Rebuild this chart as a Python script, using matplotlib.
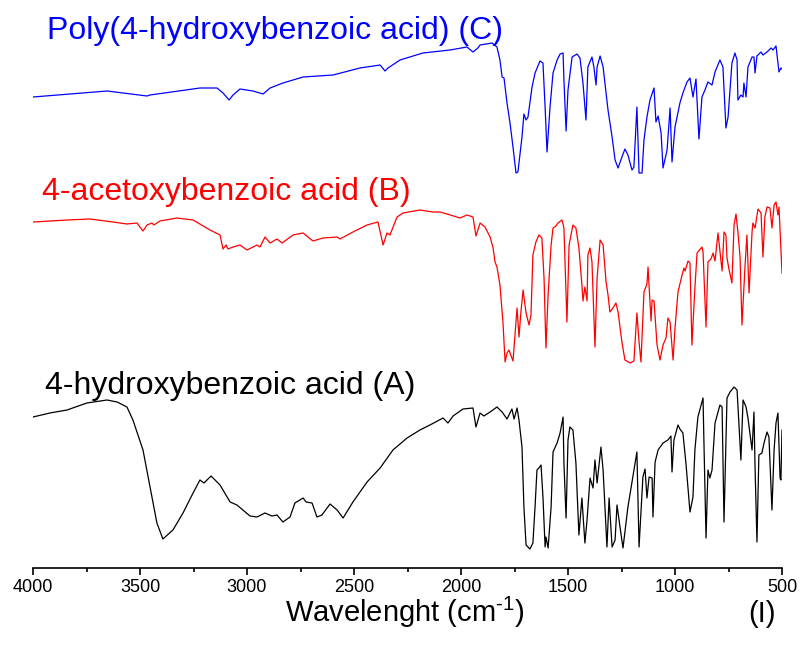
"""
FTIR spectra of 4-hydroxybenzoic acid (A), 4-acetoxybenzoic acid (B)
and poly(4-hydroxybenzoic acid) (C), stacked traces.
"""

import matplotlib
matplotlib.use("Agg")
import matplotlib.pyplot as plt
from matplotlib.ticker import MultipleLocator

# ─── Data (wavenumber in cm-1, transmittance in arbitrary stacked units) ─────
wn_C = [4000, 3654, 3467, 3453, 3220, 3140, 3112, 3084, 3065, 3033,
        2972, 2925, 2892, 2832, 2738, 2598, 2472, 2378, 2355, 2341,
        2285, 2178, 2051, 1972, 1944, 1921, 1911, 1855, 1832, 1818,
        1808, 1799, 1785, 1771, 1757, 1743, 1734, 1715, 1706, 1696,
        1687, 1668, 1654, 1631, 1617, 1607, 1598, 1584, 1570, 1551,
        1537, 1523, 1519, 1509, 1500, 1481, 1458, 1444, 1430, 1416,
        1407, 1388, 1379, 1369, 1364, 1350, 1336, 1313, 1294, 1280,
        1266, 1248, 1234, 1220, 1201, 1192, 1178, 1168, 1154, 1145,
        1131, 1117, 1098, 1089, 1079, 1065, 1056, 1037, 1023, 1014,
        1000, 977, 963, 944, 930, 916, 902, 897, 888, 874,
        860, 846, 827, 813, 790, 776, 762, 752, 734, 720,
        710, 706, 692, 682, 678, 668, 659, 640, 631, 626,
        617, 598, 589, 570, 551, 542, 528, 514, 505, 495]
t_C = [471, 477, 472, 473, 480, 480, 475, 468, 473, 479,
       477, 474, 480, 485, 491, 493, 500, 503, 497, 500,
       508, 515, 518, 521, 516, 520, 523, 525, 521, 508,
       491, 490, 465, 445, 421, 395, 396, 431, 454, 448,
       451, 481, 495, 507, 505, 461, 416, 461, 495, 508,
       514, 515, 488, 437, 478, 511, 514, 510, 485, 448,
       501, 511, 501, 483, 501, 512, 501, 458, 431, 408,
       400, 411, 419, 413, 398, 401, 461, 395, 395, 428,
       451, 468, 480, 446, 452, 435, 400, 418, 460, 406,
       441, 465, 475, 486, 490, 471, 489, 468, 429, 471,
       478, 486, 483, 496, 508, 501, 440, 451, 505, 515,
       508, 468, 473, 471, 485, 471, 501, 511, 511, 495,
       512, 516, 513, 516, 520, 518, 522, 496, 500, 498]

wn_B = [4000, 3841, 3734, 3626, 3561, 3514, 3486, 3467, 3444, 3435,
        3407, 3327, 3252, 3173, 3126, 3112, 3098, 3089, 3065, 3033,
        3000, 2953, 2939, 2916, 2892, 2860, 2836, 2785, 2738, 2692,
        2645, 2579, 2565, 2505, 2439, 2388, 2364, 2346, 2332, 2299,
        2271, 2192, 2131, 2098, 2065, 2005, 1972, 1944, 1930, 1911,
        1888, 1864, 1850, 1841, 1832, 1818, 1804, 1794, 1785, 1776,
        1757, 1738, 1729, 1720, 1710, 1696, 1682, 1673, 1664, 1650,
        1636, 1622, 1612, 1603, 1593, 1579, 1570, 1556, 1547, 1528,
        1519, 1505, 1495, 1477, 1463, 1449, 1435, 1430, 1421, 1411,
        1407, 1397, 1388, 1374, 1364, 1350, 1336, 1322, 1313, 1304,
        1290, 1276, 1266, 1248, 1234, 1210, 1192, 1178, 1168, 1159,
        1145, 1131, 1126, 1112, 1107, 1098, 1084, 1070, 1056, 1042,
        1033, 1023, 1009, 1000, 986, 967, 958, 953, 939, 930,
        921, 907, 897, 874, 869, 855, 846, 832, 822, 813,
        799, 780, 771, 762, 757, 748, 734, 724, 715, 706,
        696, 687, 673, 664, 654, 640, 636, 626, 612, 598,
        589, 580, 570, 556, 547, 537, 528, 519, 514, 500]
t_B = [346, 348, 349, 346, 344, 345, 337, 343, 345, 343,
       347, 350, 348, 338, 333, 319, 323, 319, 321, 323,
       318, 323, 321, 331, 325, 329, 325, 333, 335, 327,
       330, 331, 329, 336, 343, 346, 323, 335, 333, 351,
       355, 358, 356, 356, 354, 350, 353, 351, 332, 345,
       341, 331, 320, 306, 301, 283, 246, 206, 215, 218,
       207, 260, 231, 256, 278, 255, 243, 253, 313, 326,
       333, 330, 290, 220, 273, 323, 340, 342, 345, 348,
       340, 246, 323, 343, 340, 320, 283, 267, 281, 267,
       313, 320, 306, 221, 290, 328, 323, 286, 273, 256,
       260, 265, 256, 226, 208, 205, 207, 255, 226, 206,
       276, 284, 301, 247, 268, 267, 223, 208, 223, 230,
       250, 246, 208, 240, 276, 293, 300, 297, 307, 305,
       223, 280, 315, 321, 316, 241, 306, 309, 315, 307,
       335, 297, 336, 333, 310, 299, 285, 343, 354, 336,
       311, 243, 301, 333, 275, 336, 345, 340, 359, 355,
       311, 351, 361, 360, 340, 363, 366, 353, 361, 295]

wn_A = [4000, 3921, 3841, 3748, 3654, 3607, 3561, 3533, 3486, 3453,
        3421, 3393, 3346, 3299, 3252, 3220, 3201, 3168, 3126, 3079,
        3047, 2986, 2953, 2916, 2883, 2860, 2832, 2799, 2776, 2738,
        2724, 2696, 2673, 2650, 2612, 2579, 2551, 2505, 2439, 2378,
        2318, 2252, 2192, 2145, 2084, 2061, 2037, 1991, 1944, 1930,
        1911, 1893, 1864, 1832, 1808, 1785, 1762, 1752, 1738, 1729,
        1715, 1706, 1696, 1678, 1664, 1654, 1645, 1636, 1626, 1617,
        1607, 1603, 1593, 1579, 1570, 1551, 1537, 1523, 1519, 1509,
        1500, 1491, 1477, 1463, 1449, 1435, 1421, 1411, 1397, 1383,
        1374, 1364, 1346, 1336, 1318, 1308, 1294, 1280, 1271, 1257,
        1243, 1220, 1178, 1168, 1150, 1140, 1131, 1121, 1107, 1103,
        1093, 1079, 1056, 1033, 1019, 1014, 1005, 986, 977, 963,
        949, 930, 916, 907, 893, 869, 865, 855, 846, 837,
        827, 813, 790, 780, 771, 757, 743, 724, 710, 692,
        682, 668, 659, 640, 631, 626, 617, 608, 594, 584,
        570, 561, 547, 537, 528, 519, 509, 505, 500]
t_A = [151, 155, 158, 165, 168, 166, 161, 148, 118, 81,
       45, 29, 38, 55, 75, 88, 85, 92, 83, 66,
       63, 52, 51, 55, 52, 53, 46, 51, 65, 70,
       66, 65, 51, 53, 64, 58, 50, 66, 86, 100,
       118, 130, 138, 143, 150, 145, 152, 159, 160, 141,
       155, 152, 156, 161, 156, 149, 159, 149, 160, 148,
       121, 61, 23, 19, 25, 61, 98, 100, 103, 71,
       21, 31, 20, 61, 116, 125, 135, 151, 105, 50,
       128, 141, 138, 105, 33, 70, 25, 48, 90, 80,
       108, 85, 121, 98, 21, 70, 21, 28, 63, 41,
       20, 61, 116, 21, 91, 99, 70, 91, 90, 51,
       106, 118, 125, 128, 132, 96, 128, 143, 139, 135,
       105, 56, 71, 118, 151, 170, 128, 30, 98, 90,
       98, 145, 163, 161, 46, 170, 176, 181, 178, 108,
       168, 161, 150, 118, 156, 101, 26, 113, 115, 125,
       136, 131, 58, 118, 145, 155, 90, 88, 138]

labels = ["4-hydroxybenzoic acid (A)",
          "4-acetoxybenzoic acid (B)",
          "Poly(4-hydroxybenzoic acid) (C)"]

# ─── Style ────────────────────────────────────────────────────────────────────
plt.rcParams["font.family"] = ["Liberation Sans", "DejaVu Sans"]
plt.rcParams["mathtext.fontset"] = "custom"
plt.rcParams["mathtext.rm"] = "Liberation Sans"

fig = plt.figure(figsize=(8.02, 6.61), dpi=100, facecolor="white")
ax = fig.add_axes([33 / 802, 93 / 661, 749 / 802, 560 / 661])

ax.plot(wn_A, t_A, color="black", lw=0.9)
ax.plot(wn_B, t_B, color="#ff0000", lw=0.9)
ax.plot(wn_C, t_C, color="#0000ff", lw=0.9)

ax.set_xlim(4000, 500)
ax.set_ylim(0, 560)

for side in ("top", "left", "right"):
    ax.spines[side].set_visible(False)
ax.spines["bottom"].set_linewidth(1.2)
ax.set_yticks([])
ax.xaxis.set_major_locator(MultipleLocator(500))
ax.xaxis.set_minor_locator(MultipleLocator(250))
ax.tick_params(axis="x", which="major", direction="out", length=5,
               width=1.2, labelsize=13, pad=3)
ax.tick_params(axis="x", which="minor", direction="out", length=3, width=1.2)

# Labels of each trace
ax.text(3944, 174, labels[0], color="black", fontsize=23,
        ha="left", va="baseline")
ax.text(3958, 368, labels[1], color="#ff0000", fontsize=23,
        ha="left", va="baseline")
ax.text(3935, 529, labels[2], color="#0000ff", fontsize=23,
        ha="left", va="baseline")

fig.text(405 / 802, 39 / 661, r"Wavelenght (cm$^{\text{-1}}$)",
         fontsize=21, ha="center", va="baseline")
fig.text(762 / 802, 39 / 661, "(I)", fontsize=21, ha="center", va="baseline")

fig.savefig("out.png", dpi=100, facecolor="white")
